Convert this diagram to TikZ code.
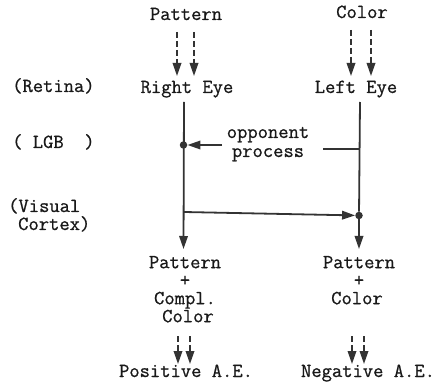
\documentclass[tikz,border=0pt]{standalone}
\usepackage{fontspec}
\newfontfamily\typewriter[FakeBold=0.8]{Latin Modern Mono}
\usetikzlibrary{arrows.meta}
\begin{document}
\begin{tikzpicture}[x=1pt,y=-1pt,
  lbl/.style={font=\fontsize{20}{22}\typewriter, inner sep=0pt, anchor=base,
    text height=11pt, text depth=2.5pt, text=black!90},
  lblw/.style={lbl, anchor=base west},
  stack/.style={font=\fontsize{20}{18}\typewriter, inner sep=0pt, anchor=north,
    align=center, text=black!90},
  wire/.style={line width=1.8pt, draw=black!80},
  arr/.style={wire, -{Triangle[length=13pt,width=8.5pt]}},
  dasharr/.style={arr, dash pattern=on 6pt off 3pt},
  dot/.style={circle, fill=black!80, inner sep=0pt, minimum size=7.5pt}]
\useasboundingbox (0,0) rectangle (442,382);

% stimuli
\node[lbl] (pat) at (186,20) {Pattern};
\node[lbl] (col) at (362,18) {Color};

% retina level
\node[lblw] (ret) at (12,92) {(Retina)};
\node[lbl] (reye) at (187,93) {Right Eye};
\node[lbl] (leye) at (356,93) {Left Eye};

% LGB level
\node[lblw] (lgb) at (12,148) {(~LGB~~)};
\node[lbl] (opp1) at (268,138) {opponent};
\node[lbl] (opp2) at (268,157) {process};

% visual cortex level
\node[lblw] (vis1) at (8,212) {(Visual};
\node[lblw] (vis2) at (18,230) {Cortex)};

% resulting percepts
\node[stack] (lout) at (185,255.8) {Pattern\\+\\Compl.\\\hspace*{6pt}Color};
\node[stack] (rout) at (359,255.8) {Pattern\\+\\Color\hspace*{4pt}};

\node[lbl] (pos) at (186,377) {Positive A.E.};
\node[lbl] (neg) at (368,377) {Negative A.E.};

% junction points
\node[dot] (dl) at (183.5,145) {};
\node[dot] (dr) at (359,215.5) {};
\coordinate (ltop) at (184,102);
\coordinate (rtop) at (360,102);
\coordinate (lbot) at (183.5,249);
\coordinate (rbot) at (359,249);
\coordinate (ljoin) at (184,212);
\coordinate (oppend) at (222,145);
\coordinate (oppstart) at (323,149);
\coordinate (rjoin) at (360,149);

% dashed inputs
\draw[dasharr] (177,32) -- (177,76);
\draw[dasharr] (194,32) -- (194,76);
\draw[dasharr] (351,30) -- (351,76);
\draw[dasharr] (371,30) -- (371,76);

% main pathways
\draw[arr] (ltop) -- (lbot);
\draw[wire] (rtop) -- (dr);
\draw[arr] (dr) -- (rbot);

% opponent process
\draw[wire] (oppstart) -- (rjoin);
\draw[arr] (oppend) -- (dl);

% cortex crossing
\draw[arr] (ljoin) -- (dr);

% dashed outputs
\draw[dasharr] (178,336) -- (178,364);
\draw[dasharr] (190,336) -- (190,364);
\draw[dasharr] (352,336) -- (352,364);
\draw[dasharr] (364,336) -- (364,364);
\end{tikzpicture}
\end{document}
